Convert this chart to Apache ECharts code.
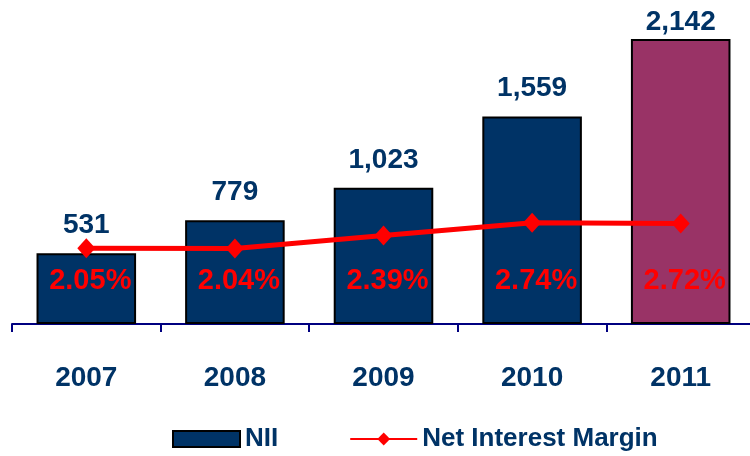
<!DOCTYPE html>
<html>
<head>
<meta charset="utf-8">
<script src="https://cdn.jsdelivr.net/npm/echarts@6/dist/echarts.min.js"></script>
<style>
  html, body { margin: 0; padding: 0; background: #fff; }
  #chart { width: 750px; height: 456px; }
</style>
</head>
<body>
<div id="chart"></div>
<script>
// chart data
const years = ['2007', '2008', '2009', '2010', '2011'];
const nii = [531, 779, 1023, 1559, 2142];
const margin = [2.05, 2.04, 2.39, 2.74, 2.72];

const NAVY = '#003366';
const PLUM = '#993366';
const RED = '#ff0000';
const FONT = '"Liberation Sans", Arial, sans-serif';

const chart = echarts.init(document.getElementById('chart'));

chart.setOption({
  animation: false,
  textStyle: { fontFamily: FONT },
  grid: { left: 12, width: 743, top: 24, height: 300, outerBoundsMode: 'none' },
  legend: {
    left: 167,
    top: 421,
    width: 580,
    itemWidth: 67,
    itemHeight: 16,
    itemGap: 71,
    textStyle: { color: NAVY, fontSize: 26, fontWeight: 'bold', fontFamily: FONT },
    data: [
      { name: 'NII', icon: 'rect' },
      { name: 'Net Interest Margin' }
    ]
  },
  xAxis: {
    type: 'category',
    data: years,
    axisLine: { show: true, lineStyle: { color: '#000080', width: 2 } },
    axisTick: { show: true, length: 8, lineStyle: { color: '#000080', width: 2 } },
    axisLabel: { color: NAVY, fontSize: 28, fontWeight: 'bold', margin: 40, fontFamily: FONT }
  },
  yAxis: [
    { type: 'value', min: 0, max: 2254, show: false },
    { type: 'value', min: 0, max: 8.11, show: false }
  ],
  series: [
    {
      name: 'NII',
      type: 'bar',
      barWidth: '67%',
      // last year is highlighted, and its label sits closer to the bar
      data: nii.map((v, i) => i === nii.length - 1
        ? { value: v, itemStyle: { color: PLUM }, label: { distance: 3 } }
        : v),
      itemStyle: { color: NAVY, borderColor: '#000', borderWidth: 2 },
      label: {
        show: true,
        position: 'top',
        distance: 14,
        color: NAVY,
        fontSize: 28,
        fontWeight: 'bold',
        fontFamily: FONT,
        formatter: p => p.value.toLocaleString('en-US')
      },
      z: 2
    },
    {
      name: 'NII-margin-label',
      type: 'bar',
      barGap: '-100%',
      barWidth: '67%',
      data: nii,
      itemStyle: { color: 'transparent' },
      label: {
        show: true,
        position: 'insideBottom',
        distance: 29,
        offset: [4, 0],
        color: RED,
        fontSize: 29,
        fontWeight: 'bold',
        fontFamily: FONT,
        formatter: p => margin[p.dataIndex].toFixed(2) + '%'
      },
      silent: true,
      z: 3
    },
    {
      name: 'Net Interest Margin',
      type: 'line',
      yAxisIndex: 1,
      data: margin,
      symbol: 'diamond',
      symbolSize: [18, 20],
      lineStyle: { color: RED, width: 5 },
      itemStyle: { color: RED },
      z: 4
    }
  ]
});
</script>
</body>
</html>
